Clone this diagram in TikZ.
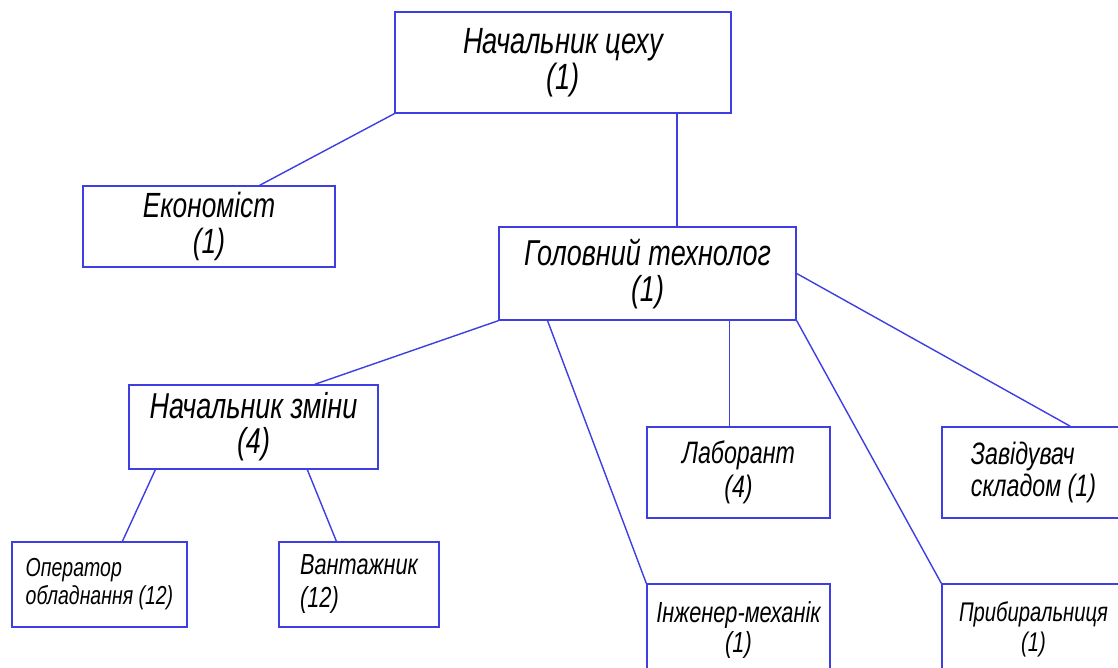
\documentclass[tikz,border=0pt]{standalone}
\usepackage{fontspec}
\newfontfamily\gost{Liberation Sans}[FakeStretch=0.75]
\usetikzlibrary{calc}
\definecolor{linec}{RGB}{62,62,226}
\tikzset{
  box/.style={draw=linec, line width=1.4pt, rectangle, inner sep=0pt, align=center, text=black},
  conn/.style={draw=linec, line width=1.4pt},
}
\newcommand{\fs}[2]{\fontsize{#1}{#2}\selectfont\gost\itshape}
\begin{document}
\begin{tikzpicture}[x=1pt,y=-1pt]
\useasboundingbox (0,0) rectangle (1118,668);
\clip (0,0) rectangle (1118,668);
\fill[white] (0,0) rectangle (1118,668);
\node[box, minimum width=336pt, minimum height=101pt, font=\fs{36.5}{36}] (top) at (563,62.5) {Начальник цеху\\(1)};
\node[box, minimum width=252pt, minimum height=81pt, font=\fs{35}{36}] (econ) at (209,226.5) {Економіст\\(1)};
\node[box, minimum width=297pt, minimum height=93pt, font=\fs{36}{36}] (golov) at (647.5,273.5) {Головний технолог\\(1)};
\node[box, minimum width=249pt, minimum height=84pt, font=\fs{36}{35}] (zmin) at (253.5,427) {Начальник зміни\\(4)};
\node[box, minimum width=183pt, minimum height=91pt, font=\fs{31}{34}] (lab) at (738.5,472.5) {Лаборант\\(4)};
\node[box, minimum width=183pt, minimum height=91pt, font=\fs{31}{32}, align=left] (zav) at (1033.5,472.5) {Завідувач\\складом (1)};
\node[box, minimum width=175pt, minimum height=85pt, font=\fs{26}{28}, align=left] (oper) at (99.5,584.5) {Оператор\\обладнання (12)};
\node[box, minimum width=160pt, minimum height=85pt, font=\fs{29}{33}, align=left] (vant) at (359,584.5) {Вантажник\\(12)};
\node[box, minimum width=183pt, minimum height=91pt, font=\fs{29}{30}] (inzh) at (738.5,629.5) {Інженер-механік\\(1)};
\node[box, minimum width=183pt, minimum height=91pt, font=\fs{27}{30}] (prib) at (1033.5,629.5) {Прибиральниця\\(1)};
% connectors
\coordinate (c1) at ($(top.south west)!0.8375!(top.south east)$);
\draw[conn] (c1) -- (c1 |- golov.north);
\draw[conn] (top.south west) -- ($(econ.north west)!0.7!(econ.north east)$);
\draw[conn] (golov.south west) -- ($(zmin.north west)!0.745!(zmin.north east)$);
\draw[conn] ($(golov.south west)!0.165!(golov.south east)$) -- (inzh.north west);
\coordinate (c2) at ($(golov.south west)!0.775!(golov.south east)$);
\draw[conn] (c2) -- (c2 |- lab.north);
\draw[conn] (golov.south east) -- (prib.north west);
\draw[conn] (golov.east) -- ($(zav.north west)!0.7!(zav.north east)$);
\draw[conn] ($(zmin.south west)!0.108!(zmin.south east)$) -- ($(oper.north west)!0.63!(oper.north east)$);
\draw[conn] ($(zmin.south west)!0.715!(zmin.south east)$) -- ($(vant.north west)!0.36!(vant.north east)$);
\end{tikzpicture}
\end{document}
